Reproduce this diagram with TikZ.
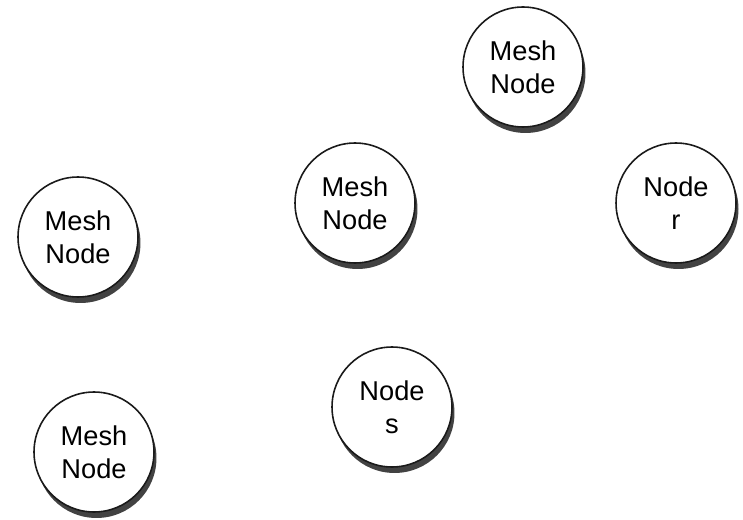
\documentclass[tikz,border=0pt]{standalone}
\usepackage{fontspec}
\setmainfont{Liberation Sans}
\usetikzlibrary{shadows}
\definecolor{ringline}{HTML}{1A1A1A}
\definecolor{ringshadow}{HTML}{2E2E2E}

\begin{document}
\begin{tikzpicture}[
        x=0.02cm, y=-0.02cm,
        mesh/.style={circle, draw=ringline, line width=0.9pt, fill=white,
                    minimum size=2.4cm, inner sep=0pt, align=center,
                    font=\fontsize{15.5}{19}\selectfont,
                    drop shadow={shadow xshift=0.05cm, shadow yshift=-0.12cm,
                                 fill=ringshadow, opacity=0.9}}
      ]
        \useasboundingbox (0,0) rectangle (743,520);

        \node[mesh] (topmesh) at (523,67) {Mesh\\Node};
        \node[mesh] (midmesh) at (355,203) {Mesh\\Node};
        \node[mesh] (noder) at (676,203) {Node\\r};
        \node[mesh] (leftmesh) at (78,237) {Mesh\\Node};
        \node[mesh] (nodes) at (392,407) {Node\\s};
        \node[mesh] (lowmesh) at (94,452) {Mesh\\Node};
      \end{tikzpicture}
\end{document}
